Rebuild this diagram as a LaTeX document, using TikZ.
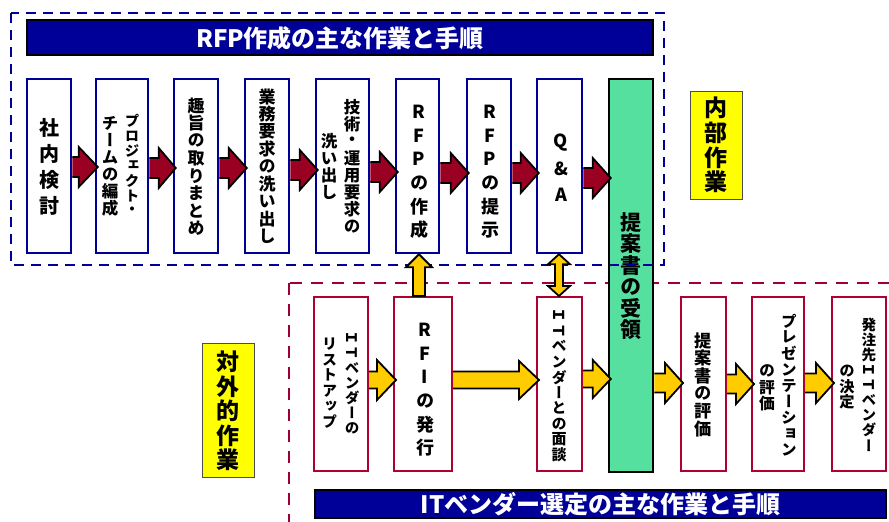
\documentclass[tikz,border=0pt]{standalone}
\usepackage{fontspec}
\usepackage{graphicx}
\usetikzlibrary{calc,fit}
\newfontfamily\jpv{Noto Sans CJK JP}[RawFeature=+vert,BoldFont={Noto Sans CJK JP Black}]
\newfontfamily\jph{Noto Sans CJK JP}[BoldFont={Noto Sans CJK JP Black}]
\XeTeXuseglyphmetrics=1
\definecolor{blueB}{RGB}{0,0,153}
\definecolor{redB}{RGB}{176,0,48}
\definecolor{dashRed}{RGB}{160,0,48}
\definecolor{arrowRed}{RGB}{153,0,34}
\definecolor{yellowA}{RGB}{255,204,0}
\definecolor{greenF}{RGB}{85,224,160}
\definecolor{labelY}{RGB}{255,255,0}
\ExplSyntaxOn
\NewDocumentCommand\vt{O{17pt}m}
 {
  \vbox:n
   {
    \offinterlineskip
    \tl_map_inline:nn {#2}
     {
      \hbox_to_wd:nn {1.05em}
       { \hss \vbox_to_ht:nn {#1} { \vss \hbox:n {##1} \vss } \hss }
     }
   }
 }
\ExplSyntaxOff
\newcommand\rI{\rotatebox[origin=c]{-90}{\jph\bfseries Ｉ}}
\newcommand\rT{\rotatebox[origin=c]{-90}{\jph\bfseries Ｔ}}
\newcommand\fsz[1]{\fontsize{#1}{#1}\selectfont}
% #1 fill, #2 from, #3 to, #4 y, #5 half shaft, #6 half head, #7 head length
\newcommand\harrow[7]{%
 \path[fill=#1] let \p1=(#2.east), \p2=(#3.west), \p3=(0,#4) in
  (\x1,\y3+#5pt) -- (\x2-#7pt,\y3+#5pt) -- (\x2-#7pt,\y3+#6pt) -- (\x2+3pt,\y3)
  -- (\x2-#7pt,\y3-#6pt) -- (\x2-#7pt,\y3-#5pt) -- (\x1,\y3-#5pt) -- cycle;
 \draw[arrline] let \p1=(#2.east), \p2=(#3.west), \p3=(0,#4) in
  (\x1,\y3+#5pt) -- (\x2-#7pt,\y3+#5pt) -- (\x2-#7pt,\y3+#6pt) -- (\x2+3pt,\y3)
  -- (\x2-#7pt,\y3-#6pt) -- (\x2-#7pt,\y3-#5pt) -- (\x1,\y3-#5pt);}
\pgfdeclarelayer{back}
\pgfdeclarelayer{front}
\pgfsetlayers{back,main,front}
\begin{document}
\begin{tikzpicture}[x=1pt,y=-1pt,
  bluebox/.style={draw=blueB, line width=2.5pt, fill=white, inner sep=0pt},
  redbox/.style={draw=redB, line width=2pt, fill=white, inner sep=0pt},
  greenbox/.style={draw=black, line width=2.5pt, fill=greenF, inner sep=0pt},
  labelbox/.style={draw=black!70, line width=1pt, fill=labelY, inner sep=0pt},
  titlebar/.style={draw=black, line width=2pt, fill=blueB, inner sep=0pt},
  vtext/.style={inner sep=0pt},
  titletext/.style={inner sep=0pt, text=white, font=\jph\bfseries\fsz{24}},
  arrline/.style={draw=black, line width=1.8pt, line join=miter},
  bluedash/.style={draw=blueB, line width=2.5pt, dash pattern=on 10pt off 7pt},
  reddash/.style={draw=dashRed, line width=2.5pt, dash pattern=on 12pt off 9pt}]
\useasboundingbox (0,0) rectangle (889,522);
\clip (0,0) rectangle (889,522);

\begin{pgfonlayer}{back}
\draw[reddash] (289,283) rectangle (905,545);
\end{pgfonlayer}

% title bars
\node[titlebar, fit={(27,20)(653,55)}] (title1) {};
\node[titletext] (title1txt) at ($(title1.center)+(0,0.5)$) {RFP作成の主な作業と手順};
\node[titlebar, fit={(315,490)(886,518)}] (title2) {};
\node[titletext] (title2txt) at ($(title2.center)+(0,0.5)$) {ITベンダー選定の主な作業と手順};

% labels
\node[labelbox, fit={(690,91)(742,199)}] (lab1) {};
\node[vtext, font=\jpv\bfseries\fsz{23}] (lab1txt) at (716,145) {\vt[24.7pt]{内部作業}};
\node[labelbox, fit={(202,343)(254,477)}] (lab2) {};
\node[vtext, font=\jpv\bfseries\fsz{23}] (lab2txt) at (228,411) {\vt[24.6pt]{対外的作業}};

% top boxes
\node[bluebox, fit={(27,79)(71,253)}] (t1) {};
\node[bluebox, fit={(96,79)(148,253)}] (t2) {};
\node[bluebox, fit={(174,79)(218,253)}] (t3) {};
\node[bluebox, fit={(245,79)(289,253)}] (t4) {};
\node[bluebox, fit={(316,79)(369,253)}] (t5) {};
\node[bluebox, fit={(396,79)(439,253)}] (t6) {};
\node[bluebox, fit={(467,79)(511,253)}] (t7) {};
\node[bluebox, fit={(537,79)(582,253)}] (t8) {};
\node[greenbox, fit={(609,79)(653,472)}] (g) {};

% bottom boxes
\node[redbox, fit={(314,297)(368,471)}] (b1) {};
\node[redbox, fit={(394,297)(452,471)}] (b2) {};
\node[redbox, fit={(537,297)(582,471)}] (b3) {};
\node[redbox, fit={(681,297)(726,471)}] (b4) {};
\node[redbox, fit={(752,297)(804,471)}] (b5) {};
\node[redbox, fit={(832,297)(886,471)}] (b6) {};

% texts top
\node[vtext, font=\jpv\bfseries\fsz{20}] (t1txt) at (49,167) {\vt[26pt]{社内検討}};
\node[vtext, font=\jpv\bfseries\fsz{14.5}] (t2a) at (132,166) {\vt[15pt]{プロジェクト・}};
\node[vtext, font=\jpv\bfseries\fsz{16.5}] (t2b) at (110,166) {\vt[17pt]{チームの編成}};
\node[vtext, font=\jpv\bfseries\fsz{17}] (t3txt) at (196,167) {\vt[17.5pt]{趣旨の取りまとめ}};
\node[vtext, font=\jpv\bfseries\fsz{17}] (t4txt) at (267,166.5) {\vt[17.4pt]{業務要求の洗い出し}};
\node[vtext, font=\jpv\bfseries\fsz{16.5}] (t5a) at (352,167) {\vt[17pt]{技術・運用要求の}};
\node[vtext, font=\jpv\bfseries\fsz{16.5}] (t5b) at (329,167) {\vt[17pt]{洗い出し}};
\node[vtext, font=\jpv\bfseries\fsz{18}] (t6txt) at (419,171) {\vt[23.6pt]{RFPの作成}};
\node[vtext, font=\jpv\bfseries\fsz{18}] (t7txt) at (490,171) {\vt[23.6pt]{RFPの提示}};
\node[vtext, font=\jpv\bfseries\fsz{18}] (t8txt) at (561,169) {\vt[26pt]{Q\&A}};
\node[vtext, font=\jpv\bfseries\fsz{21}] (gtxt) at (631,276) {\vt[21.5pt]{提案書の受領}};

% texts bottom
\node[vtext, font=\jpv\bfseries\fsz{14.5}] (b1a) at (352,383) {\vt[15pt]{\rI\rT ベンダーの}};
\node[vtext, font=\jpv\bfseries\fsz{15}] (b1b) at (329.5,383) {\vt[15.5pt]{リストアップ}};
\node[vtext, font=\jpv\bfseries\fsz{18}] (b2txt) at (425,389) {\vt[23.6pt]{RFIの発行}};
\node[vtext, font=\jpv\bfseries\fsz{15}] (b3txt) at (559,385) {\vt[15.5pt]{\rI\rT ベンダーとの面談}};
\node[vtext, font=\jpv\bfseries\fsz{17.2}] (b4txt) at (703.5,385) {\vt[17.7pt]{提案書の評価}};
\node[vtext, font=\jpv\bfseries\fsz{15.6}] (b5a) at (789,385.5) {\vt[16.1pt]{プレゼンテーション}};
\node[vtext, font=\jpv\bfseries\fsz{15.8}] (b5b) at (767,387.5) {\vt[16.3pt]{の評価}};
\node[vtext, font=\jpv\bfseries\fsz{14.6}] (b6a) at (869,385) {\vt[15.1pt]{発注先\rI\rT ベンダー}};
\node[vtext, font=\jpv\bfseries\fsz{15.2}] (b6b) at (847,386.5) {\vt[15.7pt]{の決定}};

% horizontal arrows top
\harrow{arrowRed}{t1}{t2}{167}{10}{20}{16}
\harrow{arrowRed}{t2}{t3}{168}{10}{20}{14}
\harrow{arrowRed}{t3}{t4}{168}{10}{20}{15}
\harrow{arrowRed}{t4}{t5}{170}{10}{20}{15}
\harrow{arrowRed}{t5}{t6}{172}{10}{20}{15}
\harrow{arrowRed}{t6}{t7}{173}{10}{20}{15}
\harrow{arrowRed}{t7}{t8}{173}{10}{20}{15}
\harrow{arrowRed}{t8}{g}{178}{10}{20}{15}

% horizontal arrows bottom
\harrow{yellowA}{b1}{b2}{380}{8.5}{20}{16}
\harrow{yellowA}{b2}{b3}{380}{8.5}{19}{17}
\harrow{yellowA}{b3}{g}{379}{8.5}{19}{15}
\harrow{yellowA}{g}{b4}{383}{9.5}{20}{15}
\harrow{yellowA}{b4}{b5}{384}{9.5}{20}{15}
\harrow{yellowA}{b5}{b6}{383}{9.5}{20}{15}

\begin{pgfonlayer}{front}
\draw[bluedash] (11,13) rectangle (664,265);
% vertical arrows
\draw[arrline, fill=yellowA] let \p1=(b2.north), \p2=(t6.south), \p3=(419,0) in
 (\x3-6pt,\y1) -- (\x3-6pt,\y2-13pt) -- (\x3-13pt,\y2-13pt) -- (\x3,\y2)
 -- (\x3+13pt,\y2-13pt) -- (\x3+6pt,\y2-13pt) -- (\x3+6pt,\y1) -- cycle;
\draw[arrline, fill=yellowA] let \p1=(b3.north), \p2=(t8.south), \p3=(559,0) in
 (\x3-4pt,\y1+10pt) -- (\x3-11pt,\y1+10pt) -- (\x3,\y1) -- (\x3+11pt,\y1+10pt)
 -- (\x3+4pt,\y1+10pt) -- (\x3+4pt,\y2-10pt) -- (\x3+11pt,\y2-10pt) -- (\x3,\y2)
 -- (\x3-11pt,\y2-10pt) -- (\x3-4pt,\y2-10pt) -- cycle;
\end{pgfonlayer}
\end{tikzpicture}
\end{document}
